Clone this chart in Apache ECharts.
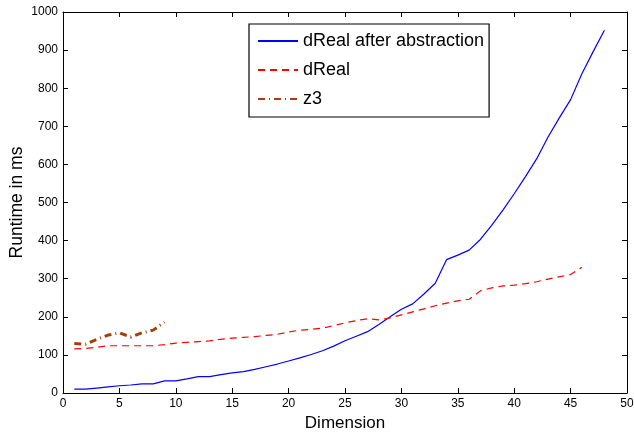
<!DOCTYPE html>
<html>
<head>
<meta charset="utf-8">
<script src="https://cdn.jsdelivr.net/npm/echarts@6/dist/echarts.min.js"></script>
<style>html,body{margin:0;padding:0;background:#fff;}#c{width:634px;height:432px;}</style>
</head>
<body>
<div id="c"></div>
<script>
var blueX = [1,2,3,4,5,6,7,8,9,10,11,12,13,14,15,16,17,18,19,20,21,22,23,24,25,26,27,28,29,30,31,32,33,34,35,36,37,38,39,40,41,42,43,44,45,46,47,48];
var blueY = [10,10,13,16,19,21,24,24,32,32,37,43,43,48,53,56,62,69,76,84,92,101,111,123,137,149,161,180,200,220,234,260,288,350,362,375,403,440,480,523,568,615,672,722,770,838,896,952];
var redX = [1,2,3,4,5,6,7,8,9,10,11,12,13,14,15,16,17,18,19,20,21,22,23,24,25,26,27,28,29,30,31,32,33,34,35,36,37,38,39,40,41,42,43,44,45,46];
var redY = [116,117,120,124,124,124,124,124,127,131,133,135,137,141,144,146,148,151,154,160,165,167,170,177,184,190,195,192,197,205,213,221,229,236,242,246,268,276,281,283,287,292,299,305,311,330];
var z3X = [1,2,3,4,5,6,7,8,9];
var z3Y = [130,128,141,152,158,147,158,165,186];
var xTicks = [0,5,10,15,20,25,30,35,40,45,50];
var yTicks = [0,100,200,300,400,500,600,700,800,900,1000];

function pairs(xs, ys){ return xs.map(function(x,i){ return [x, ys[i]]; }); }
var font = 'Liberation Sans, Arial, sans-serif';
var chart = echarts.init(document.getElementById('c'), null, {renderer:'canvas'});
var axLine = {show:true, onZero:false, lineStyle:{color:'#000', width:1}};
var tick = {show:true, inside:true, length:5, lineStyle:{color:'#000'}};
var plain = function(v){ return String(v); };
chart.setOption({
  animation:false,
  backgroundColor:'#fff',
  grid:{left:63, right:7, top:12, bottom:39, containLabel:false, outerBoundsMode:'none'},
  legend:{
    orient:'vertical', left:249, top:24,
    backgroundColor:'#fff', borderColor:'#000', borderWidth:1.2,
    padding:[8,5,9,8], itemGap:11, itemWidth:40, itemHeight:12,
    itemStyle:{opacity:0},
    textStyle:{fontFamily:font, fontSize:18, color:'#000'},
    data:['dReal after abstraction','dReal','z3']
  },
  xAxis:[{
    type:'value', min:xTicks[0], max:xTicks[xTicks.length-1], interval:5, position:'bottom',
    name:'Dimension', nameLocation:'middle', nameGap:21,
    nameTextStyle:{fontFamily:font, fontSize:17, color:'#000'},
    axisLine:axLine, axisTick:tick,
    axisLabel:{fontFamily:font, fontSize:12, color:'#000', margin:5, formatter:plain},
    splitLine:{show:false}
  },{
    type:'value', min:xTicks[0], max:xTicks[xTicks.length-1], interval:5, position:'top',
    axisLine:axLine, axisTick:tick,
    axisLabel:{show:false}, splitLine:{show:false}
  }],
  yAxis:[{
    type:'value', min:yTicks[0], max:yTicks[yTicks.length-1], interval:100, position:'left',
    name:'Runtime in ms', nameLocation:'middle', nameGap:37, nameMoveOverlap:false,
    nameTextStyle:{fontFamily:font, fontSize:17.5, color:'#000'},
    axisLine:axLine, axisTick:tick,
    axisLabel:{fontFamily:font, fontSize:12, color:'#000', margin:5, formatter:plain},
    splitLine:{show:false}
  },{
    type:'value', min:yTicks[0], max:yTicks[yTicks.length-1], interval:100, position:'right',
    axisLine:axLine, axisTick:tick,
    axisLabel:{show:false}, splitLine:{show:false}
  }],
  series:[{
    name:'dReal after abstraction', type:'line', symbol:'none', showSymbol:false,
    data:pairs(blueX, blueY), lineStyle:{color:'#0000ff', width:1.2}, itemStyle:{color:'#0000ff'}
  },{
    name:'dReal', type:'line', symbol:'none', showSymbol:false,
    data:pairs(redX, redY), lineStyle:{color:'#ff0000', width:1.2, type:[7,5]}, itemStyle:{color:'#ff0000'}
  },{
    name:'z3', type:'line', symbol:'none', showSymbol:false,
    data:pairs(z3X, z3Y), lineStyle:{color:'#a33f0c', width:3, type:[7,4,1,4]}, itemStyle:{color:'#a33f0c'}
  }]
});
</script>
</body>
</html>
